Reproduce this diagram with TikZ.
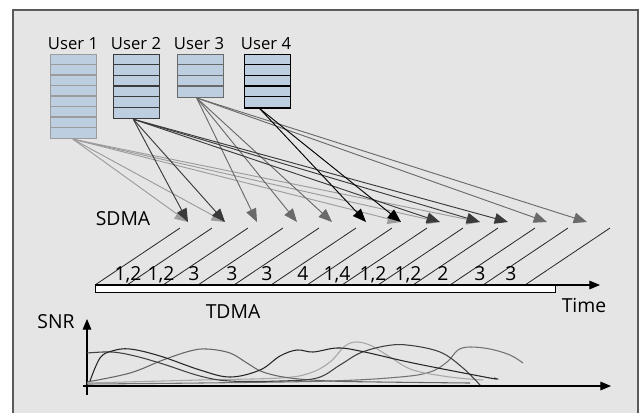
\documentclass[tikz,border=0pt]{standalone}
\usepackage{fontspec}
\setmainfont{Open Sans}
\usetikzlibrary{arrows.meta}
\definecolor{bg}{HTML}{E5E5E5}
\definecolor{boxblue}{HTML}{BCCEE0}
\definecolor{cone}{HTML}{9C9C9C}
\definecolor{ctwo}{HTML}{3A3A3A}
\definecolor{cthree}{HTML}{6A6A6A}
\definecolor{cfour}{HTML}{000000}
\definecolor{frame}{HTML}{5A5A5A}
\begin{document}
\begin{tikzpicture}[x=0.75pt,y=-0.75pt,
  userbox/.style={draw, fill=boxblue, minimum width=34.5pt, inner sep=0pt, anchor=north west, line width=0.9pt},
  ulabel/.style={font=\fontsize{12.5}{14}\selectfont, inner sep=0pt, anchor=base},
  biglabel/.style={font=\fontsize{14.5}{16}\selectfont, inner sep=0pt, anchor=base},
  uarrow/.style={line width=0.7pt, -{Triangle[length=10pt,width=8pt]}},
  slant/.style={line width=0.6pt, black!85},
  axis/.style={line width=0.8pt, -{Triangle[length=8pt,width=6.5pt]}},
  snrcurve/.style={line width=0.8pt, smooth, tension=0.6}]
\useasboundingbox (0,0) rectangle (641,412);
\fill[white] (0,0) rectangle (641,412);
\draw[fill=bg, draw=frame, line width=1.5pt] (13,10) rectangle (638,430);

% user queues
\node[userbox, draw=cone, minimum height=63pt] (u1) at (50,54) {};
\node[userbox, draw=ctwo, minimum height=48pt] (u2) at (113,54) {};
\node[userbox, draw=cthree, minimum height=32pt] (u3) at (177,54) {};
\node[userbox, draw=cfour, minimum height=40pt] (u4) at (244,54) {};
\foreach \i in {1,...,7}
  \draw[cone, line width=0.9pt] ([yshift=-\i*7.875pt]u1.north west) -- ([yshift=-\i*7.875pt]u1.north east);
\foreach \i in {1,...,5}
  \draw[ctwo, line width=0.9pt] ([yshift=-\i*8pt]u2.north west) -- ([yshift=-\i*8pt]u2.north east);
\foreach \i in {1,...,3}
  \draw[cthree, line width=0.9pt] ([yshift=-\i*8pt]u3.north west) -- ([yshift=-\i*8pt]u3.north east);
\foreach \i in {1,...,4}
  \draw[cfour, line width=0.9pt] ([yshift=-\i*8pt]u4.north west) -- ([yshift=-\i*8pt]u4.north east);

\node[ulabel] (l1) at (73,49) {User 1};
\node[ulabel] (l2) at (136,49) {User 2};
\node[ulabel] (l3) at (199,49) {User 3};
\node[ulabel] (l4) at (266,49) {User 4};

% slanted slot lines
\foreach \b [count=\k] in {95,127,163,198,234,271,307,342,378,413,450,483,525} {
  \coordinate (b\k) at (\b,285);
  \coordinate (e\k) at (\b+85,228);
  \draw[slant] (b\k) -- (e\k);
}

% arrow tips
\foreach \x [count=\k] in {188,225,257,297,332,366,401,440,480,508,547,587}
  \coordinate (t\k) at (\x,222);

% origins
\coordinate (o1) at ([xshift=-0.5pt]u1.south);
\coordinate (o2) at ([xshift=-2.5pt]u2.south);
\coordinate (o3) at ([xshift=-3pt]u3.south);
\coordinate (o4) at ([xshift=-6pt]u4.south);

\foreach \k in {1,2,7,8,9} \draw[uarrow, cone] (o1) -- (t\k);
\foreach \k in {3,4,5,11,12} \draw[uarrow, cthree] (o3) -- (t\k);
\foreach \k in {1,2,8,9,10} \draw[uarrow, ctwo] (o2) -- (t\k);
\foreach \k in {6,7} \draw[uarrow, cfour] (o4) -- (t\k);

% time bar and axis
\node[draw, fill=white, anchor=north west, minimum width=345pt, minimum height=5.5pt, inner sep=0pt, line width=0.8pt] (bar) at (95,285) {};
\coordinate (tend) at (600,285);
\draw[axis] (bar.north west) -- (tend);

% slot labels
\foreach \x/\t [count=\k] in {128/{1,2},161/{1,2},194/3,232/3,267/3,303/4,337/{1,4},373/{1,2},408/{1,2},443/2,480/3,511/3}
  \node[biglabel] (s\k) at (\x,280) {\t};

\node[biglabel] (sdma) at (123,225) {SDMA};
\node[biglabel] (tdma) at (233,318) {TDMA};
\node[biglabel] (time) at (584,312) {Time};
\node[biglabel] (snr) at (56,328) {SNR};

% SNR plot
\coordinate (ybot) at (87,395);
\coordinate (ytop) at (87,319);
\coordinate (xbeg) at (83,386);
\coordinate (xend) at (611,386);
\draw[axis] (ybot) -- (ytop);
\draw[axis] (xbeg) -- (xend);

\draw[snrcurve, black!55] plot coordinates {(87,384) (200,383) (330,381) (400,377) (430,372) (447,362) (458,350) (470,347) (490,349) (510,355) (523,363)};
\draw[snrcurve, black!35] plot coordinates {(87,383) (200,380) (280,378) (310,373) (330,362) (345,346) (357,342) (372,346) (390,357) (413,370) (450,377) (483,380)};
\draw[snrcurve, black!60] plot coordinates {(87,382) (130,373) (163,360) (190,351) (207,349) (230,353) (247,363) (263,372) (290,378) (330,381) (380,382) (470,383)};
\draw[snrcurve, black!75] plot coordinates {(87,353) (112,352) (135,356) (163,364) (200,376) (230,381) (280,381) (317,378) (340,365) (360,353) (385,346) (407,345) (440,352) (463,368) (480,385)};
\draw[snrcurve, black!85] plot coordinates {(90,381) (100,358) (112,351) (130,349) (160,356) (200,370) (230,377) (260,370) (280,356) (297,350) (313,352) (337,348) (360,351) (413,363) (490,378) (494,378)};
\end{tikzpicture}
\end{document}
